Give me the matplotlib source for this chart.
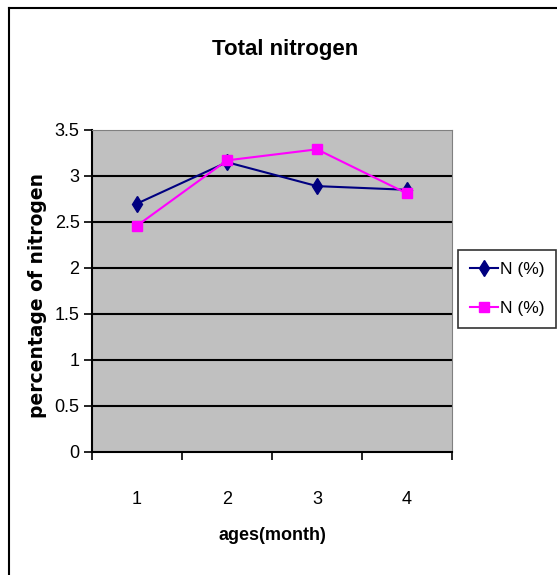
import matplotlib.pyplot as plt
import numpy as np
from matplotlib.lines import Line2D

months = ['1', '2', '3', '4']
n_series_1 = [2.70, 3.15, 2.89, 2.85]
n_series_2 = [2.46, 3.17, 3.29, 2.81]
series_labels = ['N (%)', 'N (%)']
y_ticks = [0, 0.5, 1, 1.5, 2, 2.5, 3, 3.5]

narrow = ['Liberation Sans Narrow', 'Liberation Sans', 'DejaVu Sans']
plt.rcParams['font.family'] = narrow

fig = plt.figure(figsize=(5.57, 5.75), dpi=100)

# outer chart border (left and top visible)
fig.add_artist(Line2D([9 / 557, 9 / 557], [0, 1 - 8 / 575], transform=fig.transFigure,
                      color='black', lw=1.5))
fig.add_artist(Line2D([9 / 557, 1], [1 - 8 / 575, 1 - 8 / 575], transform=fig.transFigure,
                      color='black', lw=1.5))

ax = fig.add_axes([92 / 557, 1 - 452 / 575, 360 / 557, 322 / 575])
ax.set_facecolor('#c0c0c0')

x = np.arange(len(months))
ax.plot(x, n_series_1, color='#000080', marker='d', markersize=8, lw=1.5,
        label=series_labels[0], zorder=3)
ax.plot(x, n_series_2, color='#ff00ff', marker='s', markersize=6.5, lw=1.5,
        label=series_labels[1], zorder=3)

ax.set_xlim(-0.5, 3.5)
ax.set_ylim(0, 3.5)
ax.set_yticks(y_ticks)
ax.set_yticklabels(['0', '0.5', '1', '1.5', '2', '2.5', '3', '3.5'], fontsize=13)
ax.set_xticks(np.arange(-0.5, 4, 1))
ax.set_xticklabels([])
ax.set_xticks(x, minor=True)
ax.set_xticklabels(months, minor=True, fontsize=13)
ax.tick_params(axis='x', which='minor', length=0, pad=28)
ax.tick_params(axis='x', which='major', length=6, width=1.2, direction='out')
ax.tick_params(axis='y', length=6, width=1.2, direction='out', pad=3)

for yv in y_ticks[1:-1]:
    ax.axhline(yv, color='black', lw=1.5, zorder=1)

ax.spines['left'].set_linewidth(1.5)
ax.spines['bottom'].set_linewidth(1.5)
ax.spines['top'].set_color('#808080')
ax.spines['right'].set_color('#808080')

fig.text(285 / 557, 1 - 50 / 575, 'Total nitrogen', ha='center', va='center',
         fontsize=16, fontweight='bold')
fig.text(272 / 557, 1 - 535 / 575, 'ages(month)', ha='center', va='center',
         fontsize=13, fontweight='bold')
fig.text(38 / 557, 1 - 295 / 575, 'percentage of nitrogen', ha='center', va='center',
         rotation=90, fontsize=13.5, fontweight='bold', family=['DejaVu Sans'])

leg = fig.legend(loc='center', bbox_to_anchor=(507 / 557, 1 - 289 / 575), fontsize=12.5,
                 frameon=True, fancybox=False, edgecolor='black', handlelength=1.6,
                 handletextpad=0.1, labelspacing=1.4, borderpad=0.7, borderaxespad=0)
leg.get_frame().set_linewidth(1.2)

fig.savefig('out.png', dpi=100)
